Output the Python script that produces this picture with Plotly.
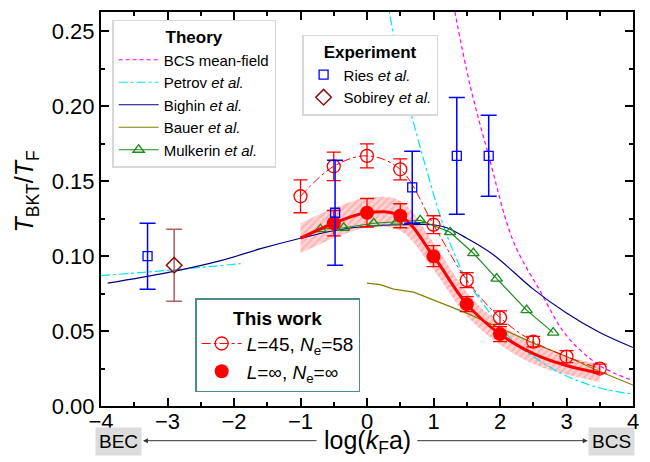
import plotly.graph_objects as go

# ---- data ----
bcs_x = [1.3, 1.55, 1.83, 2.2, 2.6, 3.0, 3.5, 4.0]
bcs_y = [0.268, 0.214, 0.167, 0.110, 0.077, 0.047, 0.027, 0.017]

petrov_bec_x = [-4.0, -3.0, -1.9]
petrov_bec_y = [0.087, 0.0905, 0.095]
petrov_bcs_x = [0.3, 0.5, 0.7, 0.9, 1.1, 1.3, 1.5, 1.75, 2.0, 2.25, 2.5, 2.75, 3.0, 3.5, 4.0]
petrov_bcs_y = [0.272, 0.225, 0.189, 0.157, 0.127, 0.103, 0.084, 0.068, 0.053, 0.041, 0.033, 0.026, 0.020, 0.012, 0.008]

bighin_x = [-3.9, -3.0, -2.2, -1.6, -1.0, -0.5, 0.0, 0.5, 1.0, 1.2, 1.5, 1.9, 2.5, 3.0, 3.5, 4.0]
bighin_y = [0.082, 0.089, 0.097, 0.105, 0.112, 0.117, 0.120, 0.121, 0.121, 0.119, 0.112, 0.101, 0.078, 0.062, 0.049, 0.039]

bauer_x = [0.0, 0.2, 0.4, 0.7, 1.1, 1.5, 2.0, 2.5, 3.0, 3.5, 4.0]
bauer_y = [0.082, 0.081, 0.078, 0.076, 0.069, 0.062, 0.052, 0.042, 0.033, 0.023, 0.014]

mulkerin_x = [-0.7, -0.35, 0.1, 0.45, 0.8, 1.25, 1.6, 1.95, 2.4, 2.8]
mulkerin_y = [0.118, 0.119, 0.122, 0.123, 0.124, 0.116, 0.102, 0.085, 0.064, 0.049]

ries_x = [-3.3, -0.48, 0.68, 1.35, 1.83]
ries_y = [0.100, 0.129, 0.146, 0.167, 0.167]
ries_err = [0.022, 0.035, 0.024, 0.039, 0.027]

sobirey_x = [-2.9]
sobirey_y = [0.094]
sobirey_err = [0.024]

l45_x = [-1.0, -0.5, 0.0, 0.5, 1.0, 1.5, 2.0, 2.5, 3.0, 3.5]
l45_y = [0.140, 0.160, 0.167, 0.158, 0.121, 0.084, 0.059, 0.043, 0.033, 0.025]
l45_err = [0.011, 0.0095, 0.008, 0.007, 0.006, 0.005, 0.0045, 0.0035, 0.004, 0.003]

inf_x = [-0.5, 0.0, 0.5, 1.0, 1.5, 2.0]
inf_y = [0.122, 0.129, 0.127, 0.100, 0.068, 0.048]
inf_err = [0.0085, 0.0095, 0.008, 0.007, 0.005, 0.005]

curve_x = [-1.0, -0.5, 0.0, 0.5, 1.0, 1.5, 2.0, 2.5, 3.0, 3.5]
curve_y = [0.112, 0.122, 0.129, 0.127, 0.100, 0.068, 0.048, 0.035, 0.027, 0.022]
band_hw = [0.010, 0.010, 0.010, 0.010, 0.009, 0.008, 0.007, 0.007, 0.006, 0.006]

FONT = "Arial, Liberation Sans, sans-serif"

fig = go.Figure()

# hatched uncertainty band
fig.add_trace(go.Scatter(
    x=curve_x, y=[c - h for c, h in zip(curve_y, band_hw)],
    mode="lines", line=dict(width=0, shape="spline"),
    showlegend=False, hoverinfo="skip"))
fig.add_trace(go.Scatter(
    x=curve_x, y=[c + h for c, h in zip(curve_y, band_hw)],
    mode="lines", line=dict(width=0, shape="spline"),
    fill="tonexty",
    fillpattern=dict(shape="/", fgcolor="rgba(255,100,100,0.6)",
                     bgcolor="rgba(255,185,185,0.6)", size=5, solidity=0.45),
    showlegend=False, hoverinfo="skip"))

# theory
fig.add_trace(go.Scatter(
    x=bcs_x, y=bcs_y, mode="lines", name="BCS mean-field",
    line=dict(color="#ff00ff", width=1.2, dash="4px,3px", shape="spline"),
    legend="legend"))
fig.add_trace(go.Scatter(
    x=petrov_bec_x, y=petrov_bec_y, mode="lines", name="Petrov <i>et al.</i>",
    line=dict(color="#00e5ee", width=1.2, dash="dashdot"),
    legend="legend"))
fig.add_trace(go.Scatter(
    x=petrov_bcs_x, y=petrov_bcs_y, mode="lines", name="Petrov <i>et al.</i>",
    line=dict(color="#00e5ee", width=1.2, dash="dashdot", shape="spline"),
    showlegend=False))
fig.add_trace(go.Scatter(
    x=bighin_x, y=bighin_y, mode="lines", name="Bighin <i>et al.</i>",
    line=dict(color="#000080", width=1.2, shape="spline"),
    legend="legend"))
fig.add_trace(go.Scatter(
    x=bauer_x, y=bauer_y, mode="lines", name="Bauer <i>et al.</i>",
    line=dict(color="#808000", width=1.2),
    legend="legend"))
fig.add_trace(go.Scatter(
    x=mulkerin_x, y=mulkerin_y, mode="lines+markers", name="Mulkerin <i>et al.</i>",
    line=dict(color="#1a8c1a", width=1.2),
    marker=dict(symbol="triangle-up-open", size=10, color="#1a8c1a", line=dict(width=1.3)),
    legend="legend"))

# this work
fig.add_trace(go.Scatter(
    x=l45_x, y=l45_y, mode="lines+markers",
    name="<i>L</i>=45, <i>N</i><sub>e</sub>=58",
    line=dict(color="#ff0000", width=1, dash="dashdot", shape="spline"),
    marker=dict(symbol="circle-open", size=13, color="#ff0000", line=dict(width=1.3)),
    error_y=dict(type="data", array=l45_err, color="#ff0000", thickness=1.3, width=7),
    legend="legend3"))
fig.add_trace(go.Scatter(
    x=curve_x, y=curve_y, mode="lines",
    line=dict(color="#ff0000", width=3, shape="spline"),
    showlegend=False, hoverinfo="skip"))
fig.add_trace(go.Scatter(
    x=inf_x, y=inf_y, mode="markers",
    name="<i>L</i>=\u221e, <i>N</i><sub>e</sub>=\u221e",
    marker=dict(symbol="circle", size=14, color="#ff0000"),
    error_y=dict(type="data", array=inf_err, color="#ff0000", thickness=1.3, width=7),
    legend="legend3"))

# experiment
fig.add_trace(go.Scatter(
    x=ries_x, y=ries_y, mode="markers", name="Ries <i>et al.</i>",
    marker=dict(symbol="square-open", size=9, color="#0000ff", line=dict(width=1.3)),
    error_y=dict(type="data", array=ries_err, color="#0000ff", thickness=1.5, width=8),
    legend="legend2"))
fig.add_trace(go.Scatter(
    x=sobirey_x, y=sobirey_y, mode="markers", name="Sobirey <i>et al.</i>",
    marker=dict(symbol="diamond-open", size=12, color="#8b1010", line=dict(width=1.5)),
    error_y=dict(type="data", array=sobirey_err, color="#b06060", thickness=1.5, width=8),
    legend="legend2"))

axis_common = dict(
    showline=True, linecolor="black", linewidth=2, mirror="ticks",
    ticks="inside", ticklen=8, tickwidth=1.5, tickcolor="black",
    showgrid=False, zeroline=False,
    tickfont=dict(family=FONT, size=22, color="black"),
)

legend_common = dict(
    bgcolor="white", borderwidth=1.5, xanchor="left", yanchor="top",
    tracegroupgap=0, traceorder="normal",
    itemclick=False, itemdoubleclick=False,
)

# the page adds an 8px body margin, so the figure is shrunk by 8px at left/top
fig.update_layout(
    width=642, height=454,
    margin=dict(l=93, r=17, t=2, b=56),
    plot_bgcolor="white", paper_bgcolor="white",
    font=dict(family=FONT, size=16, color="black"),
    xaxis=dict(range=[-4, 4], dtick=1, ticklabelstandoff=-5,
               minor=dict(ticks="inside", ticklen=4, tickwidth=1.5, dtick=0.5, tickcolor="black"),
               **axis_common),
    yaxis=dict(range=[0, 0.263], dtick=0.05, tickformat=".2f",
               minor=dict(ticks="inside", ticklen=4, tickwidth=1.5, dtick=0.025, tickcolor="black"),
               **axis_common),
    legend=dict(x=0.021, y=0.98, bordercolor="#d8d8d8", itemwidth=40,
                font=dict(family=FONT, size=15, color="black"),
                title=dict(text="<b>Theory</b>", side="top center",
                           font=dict(family=FONT, size=17)),
                **legend_common),
    legend2=dict(x=0.378, y=0.942, bordercolor="#d8d8d8", itemwidth=30,
                 font=dict(family=FONT, size=15, color="black"),
                 title=dict(text="<b>Experiment</b>", side="top center",
                            font=dict(family=FONT, size=17)),
                 **legend_common),
    legend3=dict(x=0.177, y=0.273, bordercolor="#4a8c8c", itemwidth=40,
                 font=dict(family=FONT, size=19, color="black"),
                 title=dict(text="<b>This work</b>", side="top center",
                            font=dict(family=FONT, size=19)),
                 **legend_common),
    annotations=[
        dict(text="<i>T</i><sub>BKT</sub>/<i>T</i><sub>F</sub>", textangle=-90,
             xref="paper", yref="paper", x=-0.14, y=0.543, xanchor="center", yanchor="middle",
             showarrow=False, font=dict(family=FONT, size=25)),
        dict(text="log(<i>k</i><sub>F</sub>a)", xref="x", yref="paper", x=0, y=-0.092,
             xanchor="center", yanchor="middle",
             showarrow=False, font=dict(family=FONT, size=25)),
        dict(text="BEC", xref="paper", yref="paper", x=0.032, y=-0.09, showarrow=False,
             xanchor="center", yanchor="middle", borderpad=3,
             bgcolor="#dcdcdc", font=dict(family=FONT, size=19)),
        dict(text="BCS", xref="paper", yref="paper", x=0.96, y=-0.09, showarrow=False,
             xanchor="center", yanchor="middle", borderpad=3,
             bgcolor="#dcdcdc", font=dict(family=FONT, size=19)),
        dict(text="", xref="paper", yref="paper", x=0.079, y=-0.088, ax=175, ay=0,
             showarrow=True, arrowhead=2, arrowsize=1, arrowwidth=1, arrowcolor="#333333"),
        dict(text="", xref="paper", yref="paper", x=0.915, y=-0.088, ax=-172, ay=0,
             showarrow=True, arrowhead=2, arrowsize=1, arrowwidth=1, arrowcolor="#333333"),
    ],
)

fig.write_html("out.html")
